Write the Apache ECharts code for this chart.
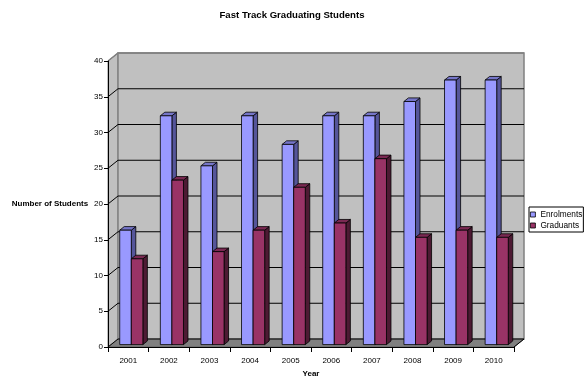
<!DOCTYPE html>
<html>
<head>
<meta charset="utf-8">
<script src="https://cdn.jsdelivr.net/npm/echarts@6/dist/echarts.min.js"></script>
<style>
  html, body { margin: 0; padding: 0; background: #ffffff; }
  #chart { width: 584px; height: 376px; }
</style>
</head>
<body>
<div id="chart"></div>
<script>
// Yearly intake and completions of the fast track programme
const years = ['2001', '2002', '2003', '2004', '2005', '2006', '2007', '2008', '2009', '2010'];
const enrolments = [16, 32, 25, 32, 28, 32, 32, 34, 37, 37];
const graduants = [12, 23, 13, 16, 22, 17, 26, 15, 16, 15];
const gridValues = [0, 5, 10, 15, 20, 25, 30, 35, 40];

// Pseudo-3D depth: how far the back wall sits from the front axes
const DEPTH_X = 10;
const DEPTH_Y = -8;
// Fractions of the depth where the bars' front and back faces sit
const BAR_FRONT = 0.3;
const BAR_BACK = 0.75;

const FONT = '"Liberation Sans", Arial, sans-serif';

// Back wall, left wall, floor and receding gridlines
function renderWalls(params, api) {
  const cs = params.coordSys;
  const x0 = cs.x, x1 = cs.x + cs.width;
  const yTop = cs.y, yBot = cs.y + cs.height;
  const children = [];
  children.push({
    type: 'polygon',
    shape: { points: [[x0, yBot], [x0 + DEPTH_X, yBot + DEPTH_Y], [x1 + DEPTH_X, yBot + DEPTH_Y], [x1, yBot]] },
    style: { fill: '#808080', stroke: '#606060', lineWidth: 1 }
  });
  children.push({
    type: 'polygon',
    shape: { points: [[x0, yBot], [x0, yTop], [x0 + DEPTH_X, yTop + DEPTH_Y], [x0 + DEPTH_X, yBot + DEPTH_Y]] },
    style: { fill: '#c0c0c0', stroke: '#808080', lineWidth: 1 }
  });
  children.push({
    type: 'rect',
    shape: { x: x0 + DEPTH_X, y: yTop + DEPTH_Y, width: cs.width, height: cs.height },
    style: { fill: '#c0c0c0', stroke: '#808080', lineWidth: 1.5 }
  });
  gridValues.forEach(function (v) {
    const y = api.coord([0, v])[1];
    const edge = (v === 40);
    children.push({
      type: 'polyline',
      shape: { points: [[x0, y], [x0 + DEPTH_X, y + DEPTH_Y], [x1 + DEPTH_X, y + DEPTH_Y]] },
      style: { stroke: edge ? '#808080' : '#000000', lineWidth: edge ? 1.5 : 1, fill: null }
    });
  });
  children.push({
    type: 'line',
    shape: { x1: x1, y1: yBot, x2: x1 + DEPTH_X, y2: yBot + DEPTH_Y },
    style: { stroke: '#000000', lineWidth: 1 }
  });
  return { type: 'group', children: children };
}

// Box-shaped bar: front face, right side and top
function barRenderer(slot, front, side, top) {
  return function (params, api) {
    const idx = api.value(0);
    const val = api.value(1);
    const pTop = api.coord([idx, val]);
    const pBase = api.coord([idx, 0]);
    const band = api.size([1, 0])[0];
    const w = band * 0.285;
    const fx = DEPTH_X * BAR_FRONT, fy = DEPTH_Y * BAR_FRONT;
    const bx = DEPTH_X * (BAR_BACK - BAR_FRONT), by = DEPTH_Y * (BAR_BACK - BAR_FRONT);
    const left = pTop[0] + (slot === 0 ? -w : 0) + fx;
    const right = left + w;
    const yT = pTop[1] + fy;
    const yB = pBase[1] + fy;
    const line = { stroke: '#000000', lineWidth: 0.8 };
    return {
      type: 'group',
      children: [
        {
          type: 'polygon',
          shape: { points: [[right, yB], [right, yT], [right + bx, yT + by], [right + bx, yB + by]] },
          style: Object.assign({ fill: side }, line)
        },
        {
          type: 'polygon',
          shape: { points: [[left, yT], [left + bx, yT + by], [right + bx, yT + by], [right, yT]] },
          style: Object.assign({ fill: top }, line)
        },
        {
          type: 'rect',
          shape: { x: left, y: yT, width: w, height: yB - yT },
          style: Object.assign({ fill: front }, line)
        }
      ]
    };
  };
}

const chart = echarts.init(document.getElementById('chart'), null, { renderer: 'canvas' });

chart.setOption({
  animation: false,
  backgroundColor: '#ffffff',
  textStyle: { fontFamily: FONT },
  title: {
    text: 'Fast Track Graduating Students',
    left: 'center',
    top: 5,
    textStyle: { fontFamily: FONT, fontSize: 9.6, fontWeight: 'bold', color: '#000000' }
  },
  legend: {
    orient: 'vertical',
    left: 529,
    top: 207,
    data: ['Enrolments', 'Graduants'],
    icon: 'rect',
    itemWidth: 5,
    itemHeight: 5,
    itemGap: 2,
    padding: [3, 1, 2, 1],
    borderColor: '#000000',
    borderWidth: 1,
    itemStyle: { borderColor: '#000000', borderWidth: 0.8 },
    textStyle: { fontFamily: FONT, fontSize: 8.3, lineHeight: 9, color: '#000000' }
  },
  grid: { left: 108, top: 61, width: 406, height: 286, containLabel: false, outerBoundsMode: 'none' },
  xAxis: {
    type: 'category',
    data: years,
    z: 5,
    name: 'Year',
    nameLocation: 'middle',
    nameGap: 22,
    nameTextStyle: { fontFamily: FONT, fontSize: 8, fontWeight: 'bold', color: '#000000' },
    axisLine: { show: true, lineStyle: { color: '#000000', width: 1 } },
    axisTick: { show: true, length: 5, alignWithLabel: false, lineStyle: { color: '#000000' } },
    axisLabel: { fontFamily: FONT, fontSize: 8, color: '#000000', margin: 10 },
    splitLine: { show: false }
  },
  yAxis: {
    type: 'value',
    min: 0,
    max: 40,
    interval: 5,
    z: 5,
    name: 'Number of Students',
    nameLocation: 'middle',
    nameRotate: 0,
    nameGap: 19,
    nameTextStyle: { fontFamily: FONT, fontSize: 8, fontWeight: 'bold', color: '#000000', align: 'right', padding: [4, 0, 0, 0] },
    axisLine: { show: true, lineStyle: { color: '#000000', width: 1 } },
    axisTick: { show: true, length: 4, lineStyle: { color: '#000000' } },
    axisLabel: { fontFamily: FONT, fontSize: 8, color: '#000000', margin: 5 },
    splitLine: { show: false }
  },
  series: [
    {
      name: 'walls',
      type: 'custom',
      z: 1,
      clip: false,
      silent: true,
      renderItem: renderWalls,
      data: [[0, 0]]
    },
    {
      name: 'Enrolments',
      type: 'custom',
      z: 3,
      clip: false,
      itemStyle: { color: '#9999ff' },
      renderItem: barRenderer(0, '#9999ff', '#55559a', '#7575c8'),
      encode: { x: 0, y: 1 },
      data: enrolments.map(function (v, i) { return [i, v]; })
    },
    {
      name: 'Graduants',
      type: 'custom',
      z: 3,
      clip: false,
      itemStyle: { color: '#993366' },
      renderItem: barRenderer(1, '#993366', '#4d1a33', '#7a2952'),
      encode: { x: 0, y: 1 },
      data: graduants.map(function (v, i) { return [i, v]; })
    }
  ]
});
</script>
</body>
</html>
